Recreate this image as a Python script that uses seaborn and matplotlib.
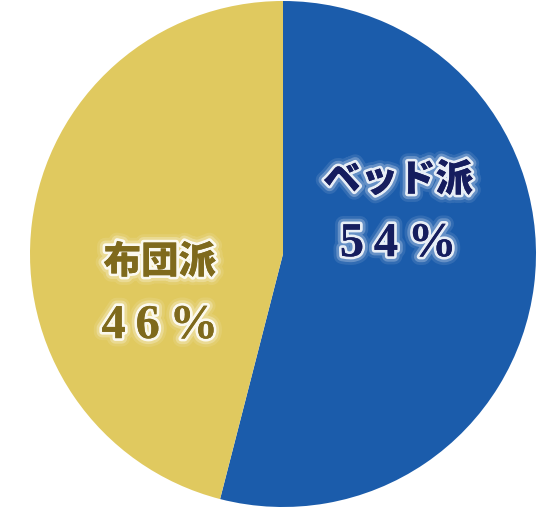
import matplotlib
matplotlib.use("Agg")
import matplotlib.pyplot as plt
import matplotlib.patheffects as pe
import seaborn as sns

# Data
categories = ["ベッド派", "布団派"]
shares = [54, 46]
wedge_colors = ["#1b5cab", "#e0c95f"]
text_colors = ["#151d5e", "#7f6a1c"]
label_pos = [(0.455, 0.292), (-0.487, -0.032)]

sns.set_theme(style="white")
plt.rcParams['font.family'] = ['Noto Sans CJK JP', 'DejaVu Sans']

fig = plt.figure(figsize=(5.59, 5.08), dpi=100)
ax = fig.add_axes([30 / 559, 1 / 508, 506 / 559, 506 / 508])

ax.pie(shares, colors=wedge_colors, startangle=90, counterclock=False,
       radius=1.0, wedgeprops=dict(linewidth=0))
ax.set_xlim(-1, 1)
ax.set_ylim(-1, 1)
ax.set_aspect('equal')
ax.axis('off')

glow = [pe.withStroke(linewidth=12, foreground=(1, 1, 1, 0.1)),
        pe.withStroke(linewidth=8, foreground=(1, 1, 1, 0.25)),
        pe.withStroke(linewidth=4, foreground=(1, 1, 1, 0.85)),
        pe.Normal()]

for name, val, col, (x, y) in zip(categories, shares, text_colors, label_pos):
    ax.text(x, y, name, ha='center', va='center', fontsize=27,
            fontweight='heavy', color=col, path_effects=glow)
    pct = "\u2009".join(list(f"{val}%"))
    ax.text(x, y - 0.253, pct, ha='center', va='center', fontsize=35,
            fontweight='bold', color=col, family=['Liberation Serif', 'DejaVu Serif'],
            path_effects=glow)

fig.savefig("out.png", dpi=100, facecolor='white')
